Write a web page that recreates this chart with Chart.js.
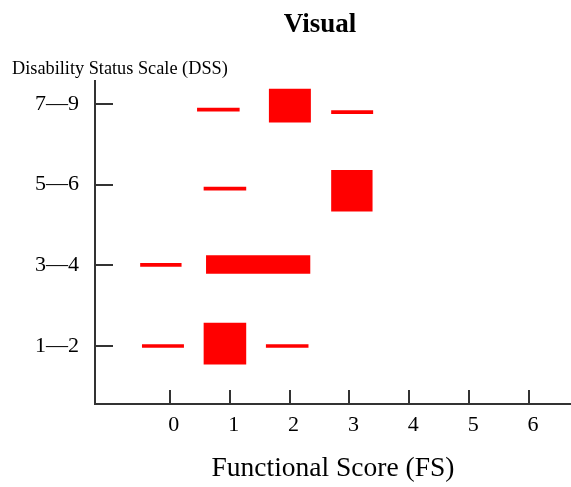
<!DOCTYPE html>
<html>
<head>
<meta charset="utf-8">
<script src="https://cdn.jsdelivr.net/npm/chart.js@4.4.1/dist/chart.umd.min.js"></script>
<style>
  body { margin: 0; background: #fff; }
</style>
</head>
<body>
<canvas id="chart" width="571" height="487"></canvas>
<script>
// DSS rows (y) and FS ticks (x)
const dssLabels = ['1\u20142', '3\u20144', '5\u20146', '7\u20149'];
const fsTicks = [0, 1, 2, 3, 4, 5, 6];

// thin marks: start / end on the FS axis, row position on the DSS axis
const thinStart = [0.46, 2.70, 0.57, -0.49, -0.46, 1.61];
const thinEnd   = [1.16, 3.39, 1.27, 0.19, 0.23, 2.31];
const thinRow   = [3.93, 3.90, 2.95, 2.005, 1.00, 1.00];

// large marks
const bigStart = [0.57, 2.70];
const bigEnd   = [1.27, 3.38];
const bigRow   = [1.03, 2.925];

const midStart = [1.66];
const midEnd   = [2.35];
const midRow   = [3.98];

const wideStart = [0.61];
const wideEnd   = [2.34];
const wideRow   = [2.01];

/**
 * Build floating bar points from start/end/row arrays.
 */
function ToBars(starts, ends, rows) {
    return starts.map((s, i) => ({x: [s, ends[i]], y: rows[i]}));
}

const AXIS_COLOR = '#333';

// inward tick marks + text labels that are not standard axis titles
const decorPlugin = {
    id: 'decor',
    afterDraw: (chart) => {
        const ctx = chart.ctx;
        const xs = chart.scales.x;
        const ys = chart.scales.y;
        const area = chart.chartArea;

        ctx.save();
        ctx.strokeStyle = AXIS_COLOR;
        ctx.lineWidth = 2;
        ctx.beginPath();
        fsTicks.forEach(v => {
            const px = Math.round(xs.getPixelForValue(v));
            ctx.moveTo(px, area.bottom);
            ctx.lineTo(px, area.bottom - 14);
        });
        dssLabels.forEach((l, i) => {
            const py = Math.round(ys.getPixelForValue(i + 1));
            ctx.moveTo(area.left, py);
            ctx.lineTo(area.left + 18, py);
        });
        ctx.stroke();

        ctx.fillStyle = '#000';
        ctx.textBaseline = 'alphabetic';
        ctx.textAlign = 'center';
        ctx.font = 'bold 27px "Liberation Serif"';
        ctx.fillText('Visual', 320, 32);

        ctx.textAlign = 'left';
        ctx.font = '18.3px "Liberation Serif"';
        ctx.fillText('Disability Status Scale (DSS)', 12, 74);
        ctx.restore();
    }
};

const barBase = {
    type: 'bar',
    backgroundColor: '#ff0000',
    borderWidth: 0,
    grouped: false
};

new Chart(document.getElementById('chart'), {
    type: 'bar',
    data: {
        datasets: [
            Object.assign({}, barBase, {label: 'few', data: ToBars(thinStart, thinEnd, thinRow), barThickness: 3}),
            Object.assign({}, barBase, {label: 'many', data: ToBars(bigStart, bigEnd, bigRow), barThickness: 41}),
            Object.assign({}, barBase, {label: 'mid', data: ToBars(midStart, midEnd, midRow), barThickness: 33}),
            Object.assign({}, barBase, {label: 'wide', data: ToBars(wideStart, wideEnd, wideRow), barThickness: 18})
        ]
    },
    options: {
        responsive: false,
        animation: false,
        indexAxis: 'y',
        layout: {padding: {top: 81, right: 0, bottom: 0, left: 0}},
        plugins: {
            legend: {display: false},
            tooltip: {enabled: false},
            title: {display: false}
        },
        scales: {
            x: {
                type: 'linear',
                min: -1.25,
                max: 6.70,
                afterFit: (s) => { s.height = 83; },
                afterBuildTicks: (s) => { s.ticks = fsTicks.map(v => ({value: v})); },
                grid: {display: true, drawOnChartArea: false, drawTicks: false},
                border: {display: true, color: AXIS_COLOR, width: 2},
                ticks: {
                    color: '#000',
                    padding: 8,
                    labelOffset: 4,
                    font: {family: 'Liberation Serif', size: 22}
                },
                title: {
                    display: true,
                    text: 'Functional Score (FS)',
                    color: '#000',
                    padding: {top: 0, bottom: 2},
                    font: {family: 'Liberation Serif', size: 27.5}
                }
            },
            y: {
                type: 'linear',
                offset: false,
                min: 0.281,
                max: 4.285,
                afterFit: (s) => { s.width = 95; },
                afterBuildTicks: (s) => { s.ticks = dssLabels.map((l, i) => ({value: i + 1})); },
                grid: {display: true, offset: false, drawOnChartArea: false, drawTicks: false},
                border: {display: true, color: AXIS_COLOR, width: 2},
                ticks: {
                    color: '#000',
                    padding: 16,
                    font: {family: 'Liberation Serif', size: 22},
                    callback: (v) => dssLabels[v - 1]
                }
            }
        }
    },
    plugins: [decorPlugin]
});
</script>
</body>
</html>
